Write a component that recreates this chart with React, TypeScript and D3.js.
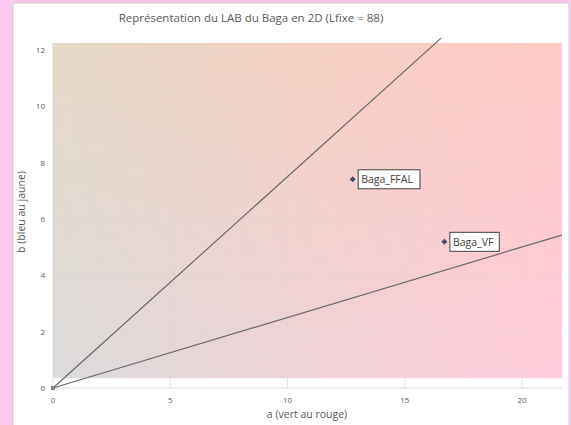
import React from "react";
import * as d3 from "d3";

const xTicks = [0, 5, 10, 15, 20];
const yTicks = [0, 2, 4, 6, 8, 10, 12];
const pointNames = ["Baga_FFAL", "Baga_VF"];
const pointA = [12.78, 16.69];
const pointB = [7.41, 5.19];
const lineEndA = [16.55, 21.7];
const lineEndB = [12.42, 5.43];
const bgBounds = { a0: 0, a1: 21.7, b0: 0.35, b1: 12.25 };

const W = 571;
const H = 425;

export default function App() {
  const x = d3.scaleLinear().domain([0, 20]).range([53, 522]);
  const y = d3.scaleLinear().domain([0, 12]).range([388, 50]);
  const line = d3.line<[number, number]>().x((d) => x(d[0])).y((d) => y(d[1]));
  const font = "'Open Sans', 'Liberation Sans', sans-serif";
  const textCol = "#595959";

  const bx0 = x(bgBounds.a0), bx1 = x(bgBounds.a1);
  const by0 = y(bgBounds.b1), by1 = y(bgBounds.b0);

  return (
    <svg width={W} height={H} style={{ position: "absolute", left: 0, top: 0 }}>
      <defs>
        <linearGradient id="gTop" x1="0" y1="0" x2="1" y2="0">
          <stop offset="0" stopColor="#e6dac8" />
          <stop offset="0.5" stopColor="#f6d1c3" />
          <stop offset="1" stopColor="#ffcac6" />
        </linearGradient>
        <linearGradient id="gBot" x1="0" y1="0" x2="1" y2="0">
          <stop offset="0" stopColor="#dcdbdb" />
          <stop offset="0.5" stopColor="#efd3d8" />
          <stop offset="1" stopColor="#ffcbdb" />
        </linearGradient>
        <linearGradient id="gMask" x1="0" y1="0" x2="0" y2="1">
          <stop offset="0" stopColor="#000" />
          <stop offset="1" stopColor="#fff" />
        </linearGradient>
        <mask id="mBot" maskUnits="userSpaceOnUse" x={bx0} y={by0} width={bx1 - bx0} height={by1 - by0}>
          <rect x={bx0} y={by0} width={bx1 - bx0} height={by1 - by0} fill="url(#gMask)" />
        </mask>
      </defs>
      <rect x={0} y={0} width={W} height={H} fill="#fbc8ef" />
      <rect x={13} y={3} width={556} height={H} fill="#ffffff" stroke="#d0d0d0" strokeWidth={1} />

      <text x={251} y={22} textAnchor="middle" fontFamily={font} fontSize={11.5} fill={textCol}>
        Représentation du LAB du Baga en 2D (Lfixe = 88)
      </text>

      {xTicks.map((t) => (
        <line key={"gx" + t} x1={x(t)} x2={x(t)} y1={by0} y2={y(0)} stroke="#e3e3e3" strokeWidth={1} />
      ))}
      {yTicks.map((t) => (
        <line key={"gy" + t} x1={bx0} x2={bx1} y1={y(t)} y2={y(t)} stroke="#e3e3e3" strokeWidth={1} />
      ))}

      <rect x={bx0} y={by0} width={bx1 - bx0} height={by1 - by0} fill="url(#gTop)" />
      <rect x={bx0} y={by0} width={bx1 - bx0} height={by1 - by0} fill="url(#gBot)" mask="url(#mBot)" />

      {xTicks.map((t) => (
        <line key={"gxo" + t} x1={x(t)} x2={x(t)} y1={by0} y2={by1} stroke="#d8d8d8" strokeOpacity={0.35} strokeWidth={1} />
      ))}
      {yTicks.map((t) => (
        <line key={"gyo" + t} x1={bx0} x2={bx1} y1={y(t)} y2={y(t)} stroke="#d8d8d8" strokeOpacity={0.35} strokeWidth={1} />
      ))}

      {xTicks.map((t) => (
        <text key={"tx" + t} x={x(t)} y={403} textAnchor="middle" fontFamily={font} fontSize={8} fill={textCol}>
          {t}
        </text>
      ))}
      {yTicks.map((t) => (
        <text key={"ty" + t} x={45} y={y(t) + 3} textAnchor="end" fontFamily={font} fontSize={8} fill={textCol}>
          {t}
        </text>
      ))}

      <text x={307} y={418} textAnchor="middle" fontFamily={font} fontSize={10.5} fill={textCol}>
        a (vert au rouge)
      </text>
      <text transform={`translate(25, 212) rotate(-90)`} textAnchor="middle" fontFamily={font} fontSize={10.5} fill={textCol}>
        b (bleu au jaune)
      </text>

      {lineEndA.map((a, i) => (
        <path key={"l" + i} d={line([[0, 0], [a, lineEndB[i]]]) || ""} fill="none" stroke="#6a6a6a" strokeWidth={1.2} />
      ))}
      <rect x={x(0) - 2} y={y(0) - 2} width={4} height={4} fill="#7f7f7f" />

      {pointA.map((a, i) => {
        const px = x(a), py = y(pointB[i]);
        const label = pointNames[i];
        const tw = label.length * 6.2 + 6;
        return (
          <g key={"p" + i}>
            <path d={`M${px},${py - 3}L${px + 3},${py}L${px},${py + 3}L${px - 3},${py}Z`} fill="#3d4e6b" />
            <rect x={px + 5.5} y={py - 9.5} width={tw} height={19} fill="#ffffff" stroke="#404040" strokeWidth={1} />
            <text x={px + 8.5} y={py + 3.8} fontFamily={font} fontSize={10.5} fill="#404040">
              {label}
            </text>
          </g>
        );
      })}
    </svg>
  );
}
